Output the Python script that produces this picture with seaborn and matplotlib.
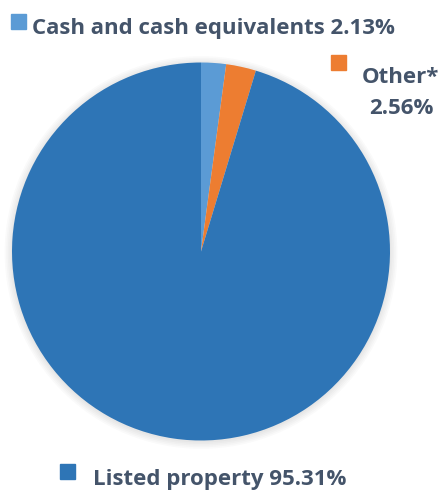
import matplotlib
matplotlib.use("Agg")
import matplotlib.pyplot as plt
import seaborn as sns

categories = ["Cash and cash equivalents", "Other*", "Listed property"]
values = [2.13, 2.56, 95.31]
colors = ["#5B9BD5", "#ED7D31", "#2E75B6"]

sns.set_theme(style="white")
plt.rcParams["font.family"] = ["Open Sans", "DejaVu Sans"]

W, H = 442, 491
fig = plt.figure(figsize=(W / 100, H / 100), dpi=100)
fig.patch.set_facecolor("white")

def fx(x):
    return x / W

def fy(y):
    return 1 - y / H

cx, cy, r = 201, 251.5, 189
pad = 10
ax = fig.add_axes([fx(cx - r - pad), fy(cy + r + pad), (2 * r + 2 * pad) / W, (2 * r + 2 * pad) / H])

# soft shadow
for i in range(5):
    ax.pie([1], radius=r + 1 + i * 1.6, colors=["#000000"], center=(0, -1),
           wedgeprops=dict(alpha=0.018, linewidth=0), frame=True)

ax.pie(values, colors=colors, startangle=90, counterclock=False, radius=r,
       wedgeprops=dict(linewidth=0), frame=True)
ax.set_xlim(-(r + pad), r + pad)
ax.set_ylim(-(r + pad), r + pad)
ax.axis("off")

tc = "#44546A"
fs = 16

def square(x, y, s, c):
    fig.patches.append(plt.Rectangle((fx(x), fy(y + s)), s / W, s / H, color=c,
                                     transform=fig.transFigure, figure=fig))

square(11, 14, 15, colors[0])
fig.text(fx(32), fy(34), f"{categories[0]} {values[0]:.2f}%", color=tc, fontsize=fs,
         fontweight="bold", va="baseline", ha="left")

square(331, 55, 15, colors[1])
fig.text(fx(400.5), fy(83), f"{categories[1]}", color=tc, fontsize=fs,
         fontweight="bold", va="baseline", ha="center")
fig.text(fx(401.5), fy(114), f"{values[1]:.2f}%", color=tc, fontsize=fs,
         fontweight="bold", va="baseline", ha="center")

square(60, 464, 15, colors[2])
fig.text(fx(93), fy(485), f"{categories[2]} {values[2]:.2f}%", color=tc, fontsize=fs,
         fontweight="bold", va="baseline", ha="left")

fig.savefig("out.png", dpi=100, facecolor="white")
